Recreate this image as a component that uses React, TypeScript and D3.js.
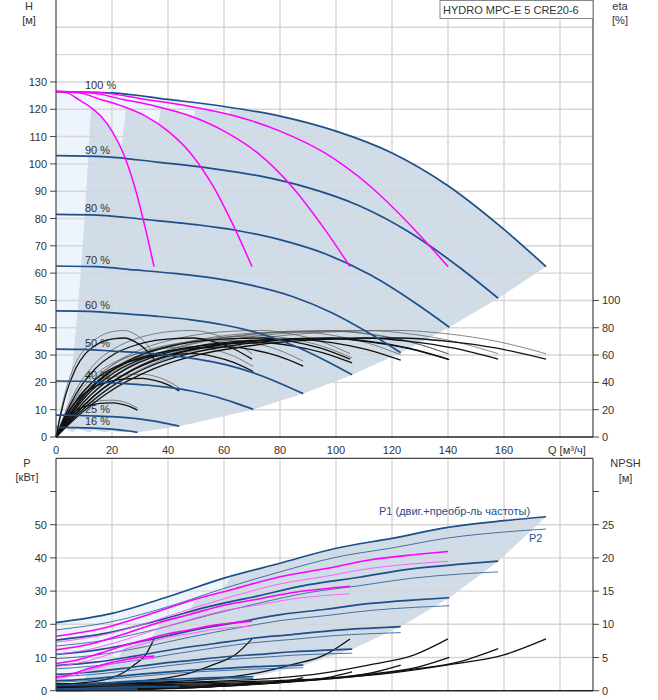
import React from 'react';
import * as d3 from 'd3';

// 5 pumps, 100 % speed
const baseQ = [0, 20, 40, 60, 80, 100, 120, 140, 160, 175];
const baseH = [126.5, 126, 123.6, 121, 117.5, 112, 104, 92, 76, 62.4];
const baseP1 = [20.5, 23.3, 28.3, 33.9, 38.4, 42.9, 45.9, 49.2, 51.2, 52.4];
const baseP2 = [18.3, 20.8, 25.3, 30.8, 35.8, 40.2, 43, 46, 47.8, 48.7];

// efficiency, total (thick) and pump (thin), same flow base
const etaQ = [0, 8.75, 17.5, 35, 52.5, 70, 87.5, 105, 122.5, 140, 157.5, 175];
const etaTotal = [0, 17, 31, 50, 61, 67, 70.5, 72, 72.5, 70, 65, 57];
const etaPump = [0, 19, 34, 54, 65, 71.5, 75.5, 77.5, 78, 75.5, 70, 61];

// NPSH
const npshQ = [0, 35, 70, 98, 120, 140, 160, 175];
const npshBase = [1.0, 1.1, 1.4, 1.9, 2.7, 3.9, 5.4, 7.8];

// speed curves
const speedLabels = ['100 %', '90 %', '80 %', '70 %', '60 %', '50 %', '40 %', '25 %', '16 %'];
const shutoffH = [126.5, 103, 81.5, 62.6, 46.2, 32.2, 20.5, 8, 3.5];
const endP1 = [52.4, 39, 28, 19.3, 12.5, 7.7, 4.2, 1.3, 0.5];
const endP2 = [48.7, 35.8, 25.6, 17.5, 11.3, 6.9, 3.7, 1.1, 0.4];
const etaPeakTotal = [72.5, 72.5, 72, 71.5, 69, 66, 61, 43, 25];
const etaPeakPump = [78, 78, 77.5, 77, 74, 71, 66, 46, 27];

const pumpCounts = [1, 2, 3, 4]; // magenta, 100 % speed
const allPumps = [1, 2, 3, 4, 5];
const minFlowQ = 62.5; // 5 pumps at 100 %

const xTicks = [0, 20, 40, 60, 80, 100, 120, 140, 160];
const xGrid = [20, 40, 60, 80, 100, 120, 140, 160, 180];
const hTicks = d3.range(0, 131, 10);
const hGrid = d3.range(10, 151, 10);
const etaTicks = [0, 20, 40, 60, 80, 100];
const pTicks = [0, 10, 20, 30, 40, 50, 60];
const pGrid = [10, 20, 30, 40, 50];
const npshTicks = [0, 5, 10, 15, 20, 25, 30];

const BLUE = '#1d4f88';
const MAG = '#ff00ff';
const DARK = '#d0dce8';
const PALE = '#edf4fb';
const GRID = '#d6d6d6';
const TXT = '#333';
const FONT = '"Liberation Sans", Arial, sans-serif';

const x = d3.scaleLinear().domain([0, 180]).range([56, 560]);
const yH = d3.scaleLinear().domain([0, 160]).range([437, 0]);
const yEta = d3.scaleLinear().domain([0, 320]).range([437, 0]);
const yP = d3.scaleLinear().domain([0, 70]).range([690.7, 458.3]);
const yN = d3.scaleLinear().domain([0, 35]).range([690.7, 458.3]);

const speeds = shutoffH.map(h => Math.sqrt(h / shutoffH[0]));

type Pt = [number, number];

const pts = (qs: number[], vs: number[], qf: number, vf: number): Pt[] =>
  qs.map((q, i) => [q * qf, vs[i] * vf]);

function interp(qs: number[], vs: number[], q: number) {
  const i = Math.max(1, d3.bisectLeft(qs, q));
  const t = (q - qs[i - 1]) / (qs[i] - qs[i - 1]);
  return vs[i - 1] + t * (vs[i] - vs[i - 1]);
}

function regionPath(qs: number[], vs: number[], qn: number, vk: number[], qMin: number, ys: d3.ScaleLinear<number, number>) {
  const last = speeds.length - 1;
  const vMin = interp(qs, vs, qMin);
  const base: Pt[] = [[qMin, vMin], ...qs.map((q, i) => [q, vs[i]] as Pt).filter(p => p[0] > qMin)];
  const seg = (s: number, k: number): Pt[] => base.map(p => [p[0] * qn * s, p[1] * k]);
  const top = seg(speeds[0], vk[0]);
  const ends: Pt[] = speeds.map((s, i) => [qs[qs.length - 1] * qn * s, vs[vs.length - 1] * vk[i]]);
  const bottom = seg(speeds[last], vk[last]).reverse();
  const leftEdge: Pt[] = speeds.map((s, i) => [qMin * qn * s, vMin * vk[i]] as Pt).reverse();
  const smooth = d3.line<Pt>().x(d => x(d[0])).y(d => ys(d[1])).curve(d3.curveMonotoneX);
  const rest = [...ends, ...bottom, ...leftEdge].map(p => `L${x(p[0])},${ys(p[1])}`).join('');
  return (smooth(top) || '') + rest + 'Z';
}

const lineFor = (ys: d3.ScaleLinear<number, number>) =>
  d3.line<Pt>().x(d => x(d[0])).y(d => ys(d[1])).curve(d3.curveMonotoneX);

const hLine = lineFor(yH);
const etaLine = lineFor(yEta);
const pLine = lineFor(yP);
const nLine = lineFor(yN);

// families: 5 pumps at every speed, then 1..4 pumps at full speed
const groups = [
  ...speeds.map((s, i) => ({ q: s, ek1: etaPeakTotal[i] / etaPeakTotal[0], ek2: etaPeakPump[i] / etaPeakPump[0], nk: s * s })),
  ...pumpCounts.map(n => ({ q: n / 5, ek1: 1, ek2: 1, nk: 1 })),
];

const hk = speeds.map(s => s * s);

export default function App() {
  const txt = { fontFamily: FONT, fontSize: 11, fill: TXT } as const;
  return (
    <svg width={658} height={700} style={{ position: 'absolute', left: 0, top: 0, background: '#fff' }}>
      {/* ---------- Q-H / eta ---------- */}
      {allPumps.map(n => (
        <path key={'pa' + n} d={regionPath(baseQ, baseH, n / 5, hk, 0, yH)} fill={PALE} />
      ))}
      {allPumps.map(n => (
        <path key={'da' + n} d={regionPath(baseQ, baseH, n / 5, hk, minFlowQ, yH)} fill={DARK} />
      ))}
      {xGrid.map(v => <line key={'gx' + v} x1={x(v)} x2={x(v)} y1={0} y2={437} stroke={GRID} strokeWidth={1.4} />)}
      {hGrid.map(v => <line key={'gh' + v} x1={56} x2={593} y1={yH(v)} y2={yH(v)} stroke={GRID} strokeWidth={1.4} />)}

      {speedLabels.map((l, i) => (
        <text key={l} x={85} y={yH(shutoffH[i]) - 2} {...txt}>{l}</text>
      ))}

      {groups.map((g, i) => (
        <path key={'et' + i} d={etaLine(pts(etaQ, etaPump, g.q, g.ek2)) || ''} fill="none" stroke="#555" strokeWidth={0.7} />
      ))}
      {groups.map((g, i) => (
        <path key={'ek' + i} d={etaLine(pts(etaQ, etaTotal, g.q, g.ek1)) || ''} fill="none" stroke="#111" strokeWidth={1.3} />
      ))}

      {speeds.map((s, i) => (
        <path key={'h' + i} d={hLine(pts(baseQ, baseH, s, hk[i])) || ''} fill="none" stroke={BLUE} strokeWidth={1.7} />
      ))}
      {pumpCounts.map(n => (
        <path key={'hm' + n} d={hLine(pts(baseQ, baseH, n / 5, 1)) || ''} fill="none" stroke={MAG} strokeWidth={1.5} />
      ))}

      <line x1={56} x2={56} y1={0} y2={437} stroke="#444" strokeWidth={1.2} />
      <line x1={593} x2={593} y1={0} y2={437} stroke="#444" strokeWidth={1.2} />
      <line x1={56} x2={593} y1={437} y2={437} stroke="#222" strokeWidth={1.4} />
      {hTicks.map(v => (
        <g key={'ht' + v}>
          <line x1={50} x2={56} y1={yH(v)} y2={yH(v)} stroke="#444" />
          <text x={47} y={yH(v) + 4} textAnchor="end" {...txt}>{v}</text>
        </g>
      ))}
      {etaTicks.map(v => (
        <g key={'et' + v}>
          <line x1={593} x2={599} y1={yEta(v)} y2={yEta(v)} stroke="#444" />
          <text x={602} y={yEta(v) + 4} {...txt}>{v}</text>
        </g>
      ))}
      {xTicks.map(v => (
        <text key={'xt' + v} x={x(v)} y={453.5} textAnchor="middle" {...txt}>{v}</text>
      ))}
      <text x={548} y={453.5} {...txt}>Q [м³/ч]</text>
      <text x={29} y={10} textAnchor="middle" {...txt}>H</text>
      <text x={29} y={24} textAnchor="middle" {...txt}>[м]</text>
      <text x={620} y={10} textAnchor="middle" {...txt}>eta</text>
      <text x={620} y={24} textAnchor="middle" {...txt}>[%]</text>
      <rect x={440} y={0.5} width={153} height={18} fill="#fff" stroke="#888" />
      <text x={443} y={14} {...txt}>HYDRO MPC-E 5 CRE20-6</text>

      {/* ---------- P / NPSH ---------- */}
      {allPumps.map(n => (
        <path key={'pb' + n} d={regionPath(baseQ, baseP1, n / 5, endP1.map(p => (p / endP1[0]) * n / 5), 0, yP)} fill={PALE} />
      ))}
      {allPumps.map(n => (
        <path key={'db' + n} d={regionPath(baseQ, baseP1, n / 5, endP1.map(p => (p / endP1[0]) * n / 5), minFlowQ, yP)} fill={DARK} />
      ))}
      {xGrid.map(v => <line key={'bgx' + v} x1={x(v)} x2={x(v)} y1={458.3} y2={690.7} stroke={GRID} strokeWidth={1.4} />)}
      {pGrid.map(v => <line key={'bgp' + v} x1={56} x2={593} y1={yP(v)} y2={yP(v)} stroke={GRID} strokeWidth={1.4} />)}

      {groups.map((g, i) => (
        <path key={'np' + i} d={nLine(pts(npshQ, npshBase, g.q, g.nk)) || ''} fill="none" stroke="#111" strokeWidth={1.3} />
      ))}
      {speeds.map((s, i) => (
        <path key={'p2' + i} d={pLine(pts(baseQ, baseP2, s, endP2[i] / endP2[0])) || ''} fill="none" stroke={BLUE} strokeWidth={0.9} opacity={0.85} />
      ))}
      {speeds.map((s, i) => (
        <path key={'p1' + i} d={pLine(pts(baseQ, baseP1, s, endP1[i] / endP1[0])) || ''} fill="none" stroke={BLUE} strokeWidth={1.7} />
      ))}
      {pumpCounts.map(n => (
        <path key={'pm2' + n} d={pLine(pts(baseQ, baseP2, n / 5, n / 5)) || ''} fill="none" stroke="#ff55ff" strokeWidth={0.9} />
      ))}
      {pumpCounts.map(n => (
        <path key={'pm1' + n} d={pLine(pts(baseQ, baseP1, n / 5, n / 5)) || ''} fill="none" stroke={MAG} strokeWidth={1.6} />
      ))}

      <line x1={56} x2={593} y1={458.3} y2={458.3} stroke="#444" strokeWidth={1.2} />
      <line x1={56} x2={56} y1={458.3} y2={690.7} stroke="#444" strokeWidth={1.2} />
      <line x1={593} x2={593} y1={458.3} y2={690.7} stroke="#444" strokeWidth={1.2} />
      <line x1={56} x2={593} y1={690.7} y2={690.7} stroke="#222" strokeWidth={1.4} />
      {pTicks.map(v => (
        <g key={'pt' + v}>
          <line x1={50} x2={56} y1={yP(v)} y2={yP(v)} stroke="#444" />
          {v < 60 && <text x={47} y={yP(v) + 4} textAnchor="end" {...txt}>{v}</text>}
        </g>
      ))}
      {npshTicks.map(v => (
        <g key={'nt' + v}>
          <line x1={593} x2={599} y1={yN(v)} y2={yN(v)} stroke="#444" />
          {v < 30 && <text x={602} y={yN(v) + 4} {...txt}>{v}</text>}
        </g>
      ))}
      <text x={27} y={467} textAnchor="middle" {...txt}>P</text>
      <text x={27} y={481} textAnchor="middle" {...txt}>[кВт]</text>
      <text x={625.5} y={467} textAnchor="middle" {...txt}>NPSH</text>
      <text x={625.5} y={482} textAnchor="middle" {...txt}>[м]</text>
      <text x={379} y={514.5} {...txt} fill={BLUE}>P1 (двиг.+преобр-ль частоты)</text>
      <text x={529} y={541.5} {...txt} fill={BLUE}>P2</text>
    </svg>
  );
}
